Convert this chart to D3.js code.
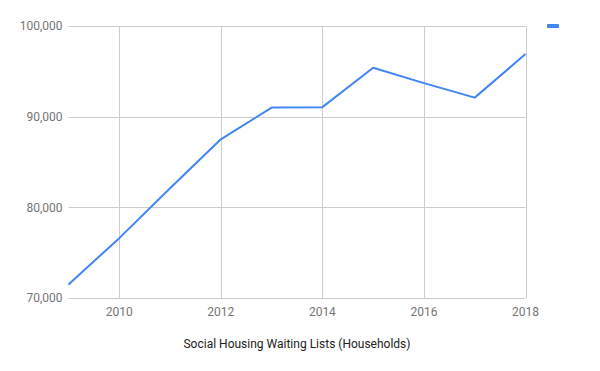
<!DOCTYPE html>
<html>
<head>
<meta charset="utf-8">
<script src="https://cdn.jsdelivr.net/npm/d3@7"></script>
<style>
  body { margin: 0; background: #fff; }
  text { font-family: Roboto, "Noto Sans", sans-serif; }
</style>
</head>
<body>
<svg id="chart" width="600" height="371"></svg>
<script>
// values
var years = [2009, 2010, 2011, 2012, 2013, 2014, 2015, 2016, 2017, 2018];
var households = [71500, 76600, 82100, 87500, 91000, 91050, 95400, 93700, 92100, 96900];
var yTicks = [70000, 80000, 90000, 100000];
var xTicks = [2010, 2012, 2014, 2016, 2018];
var title = "Social Housing Waiting Lists (Households)";

var svg = d3.select("#chart");
// note: "top" is taken by window.top, so use plot* names
var plotLeft = 68.5, plotRight = 525.5, plotTop = 26, plotBottom = 298;

var x = d3.scaleLinear().domain([2009, 2018]).range([plotLeft, plotRight]);
var y = d3.scaleLinear().domain([70000, 100000]).range([plotBottom, plotTop]);

// horizontal grid
svg.append("g").selectAll("line")
  .data(yTicks)
  .join("line")
  .attr("x1", plotLeft).attr("x2", plotRight)
  .attr("y1", d => Math.round(y(d)) + 0.5).attr("y2", d => Math.round(y(d)) + 0.5)
  .attr("stroke", "#cccccc");

// vertical grid
svg.append("g").selectAll("line")
  .data(xTicks)
  .join("line")
  .attr("x1", d => Math.round(x(d)) + 0.5).attr("x2", d => Math.round(x(d)) + 0.5)
  .attr("y1", plotTop).attr("y2", plotBottom)
  .attr("stroke", "#cccccc");

svg.append("g").selectAll("text")
  .data(yTicks)
  .join("text")
  .attr("x", plotLeft - 6)
  .attr("y", d => y(d))
  .attr("dy", "0.35em")
  .attr("text-anchor", "end")
  .attr("font-size", 12)
  .attr("fill", "#757575")
  .text(d3.format(","));

svg.append("g").selectAll("text")
  .data(xTicks)
  .join("text")
  .attr("x", d => x(d))
  .attr("y", 312)
  .attr("dy", "0.35em")
  .attr("text-anchor", "middle")
  .attr("font-size", 12)
  .attr("fill", "#757575")
  .text(d => d);

var line = d3.line()
  .x((d, i) => x(years[i]))
  .y(d => y(d));

svg.append("path")
  .datum(households)
  .attr("d", line)
  .attr("fill", "none")
  .attr("stroke", "#4285f4")
  .attr("stroke-width", 2)
  .attr("stroke-linejoin", "round");

// legend swatch (no label)
svg.append("rect")
  .attr("x", 547).attr("y", 24)
  .attr("width", 12).attr("height", 4)
  .attr("rx", 1)
  .attr("fill", "#4285f4");

svg.append("text")
  .attr("x", 297)
  .attr("y", 344)
  .attr("dy", "0.35em")
  .attr("text-anchor", "middle")
  .attr("font-size", 12)
  .attr("fill", "#222222")
  .text(title);
</script>
</body>
</html>
